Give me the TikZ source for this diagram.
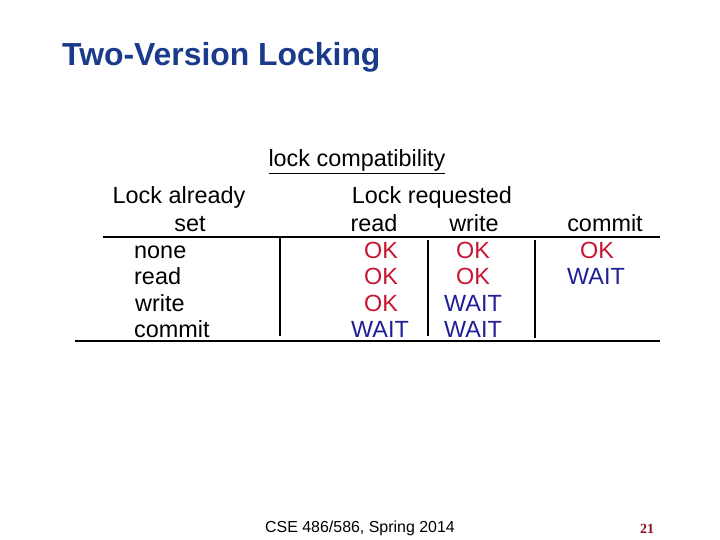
\documentclass[tikz,border=0pt]{standalone}
\usepackage{fontspec}
\setmainfont{Liberation Sans}
\newfontfamily\numfont{Liberation Serif}
\usetikzlibrary{positioning, calc}
\definecolor{titleblue}{RGB}{26,58,140}
\definecolor{okred}{RGB}{200,20,50}
\definecolor{waitblue}{RGB}{30,30,150}
\tikzstyle{txt} = [anchor=base,inner sep=0pt,font=\fontsize{23.5}{26}\selectfont]
\tikzstyle{ok} = [txt,text=okred]
\tikzstyle{wait} = [txt,text=waitblue]
\tikzstyle{rule} = [line width=2.4pt]

\begin{document}
\begin{tikzpicture}[x=1bp,y=-1bp]
	\useasboundingbox (0,0) rectangle (720,540);
	\node[anchor=base west,inner sep=0pt,font=\bfseries\fontsize{32}{36}\selectfont,text=titleblue](title) at (62,66){Two-Version Locking};
	\node[txt](compat) at (357,167){\underline{lock compatibility}};
	\node[txt](h_already) at (179,204){Lock already};
	\node[txt](h_set) at (190,232){set};
	\node[txt](h_req) at (432,204){Lock requested};
	\node[txt](h_read) at (374,232){read};
	\node[txt](h_write) at (474,232){write};
	\node[txt](h_commit) at (605,232){commit};
	\node[txt,anchor=base west](r_none) at (134,259){none};
	\node[txt,anchor=base west](r_read) at (134,285){read};
	\node[txt,anchor=base west](r_write) at (135,311){write};
	\node[txt,anchor=base west](r_commit) at (134,337){commit};
	\node[ok](c_11) at (381,259){OK};
	\node[ok](c_12) at (473,259){OK};
	\node[ok](c_13) at (597,259){OK};
	\node[ok](c_21) at (381,285){OK};
	\node[ok](c_22) at (473,285){OK};
	\node[wait](c_23) at (596,285){WAIT};
	\node[ok](c_31) at (381,311){OK};
	\node[wait](c_32) at (473,311){WAIT};
	\node[wait](c_41) at (380,337){WAIT};
	\node[wait](c_42) at (473,337){WAIT};
	% table rules
	\coordinate (top_l) at (103,237);
	\coordinate (top_r) at (660,237);
	\coordinate (bot_l) at (75,341);
	\coordinate (bot_r) at (660,341);
	\draw[rule] (top_l) -- (top_r);
	\draw[line width=1.4pt] (bot_l) -- (bot_r);
	\draw[rule] (280,238) -- (280,336);
	\draw[rule] (428,240) -- (428,336);
	\draw[rule] (535,240) -- (535,338);
	\node[anchor=base,inner sep=0pt,font=\fontsize{16}{18}\selectfont](footer) at (360,532){CSE 486/586, Spring 2014};
	\node[anchor=base,inner sep=0pt,font=\numfont\bfseries\fontsize{14}{16}\selectfont,text=okred!70!black](page) at (647,533){21};
\end{tikzpicture}
\end{document}
